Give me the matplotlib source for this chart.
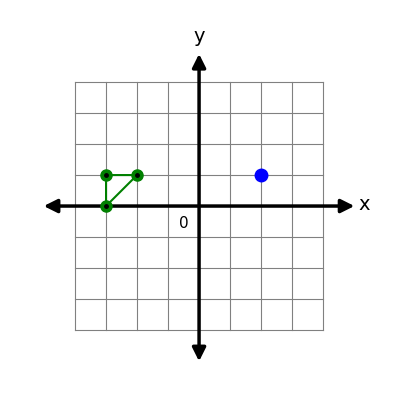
import numpy as np
import matplotlib.pyplot as plt

# grid range
grid_min, grid_max = -4, 4
# triangle vertices
tri_x = [-3, -3, -2]
tri_y = [0, 1, 1]
# single point
pt_x, pt_y = 2, 1

fig = plt.figure(figsize=(4, 4), dpi=100)
ax = fig.add_axes([0, 0, 1, 1])
ax.set_xlim(-6.42, 6.48)
ax.set_ylim(-6.26, 6.65)
ax.axis("off")

for v in range(grid_min, grid_max + 1):
    ax.plot([v, v], [grid_min, grid_max], color="gray", lw=0.8, zorder=1)
    ax.plot([grid_min, grid_max], [v, v], color="gray", lw=0.8, zorder=1)

# axes with arrows
ax.annotate("", xy=(5.1, 0), xytext=(-5.1, 0),
            arrowprops=dict(arrowstyle="<|-|>", color="black", lw=2.5, mutation_scale=20), zorder=2)
ax.annotate("", xy=(0, 5.0), xytext=(0, -5.1),
            arrowprops=dict(arrowstyle="<|-|>", color="black", lw=2.5, mutation_scale=20), zorder=2)
ax.text(5.15, 0.05, "x", fontsize=14, va="center", ha="left")
ax.text(0, 5.15, "y", fontsize=14, va="bottom", ha="center")
ax.text(-0.5, -0.55, "0", fontsize=11, va="center", ha="center")

ax.fill(tri_x, tri_y, facecolor="none", edgecolor="green", lw=1.5, zorder=3)
ax.plot(tri_x, tri_y, "o", color="green", ms=8, zorder=4)
ax.plot(tri_x, tri_y, "o", color="black", ms=2.5, zorder=5)
ax.plot(pt_x, pt_y, "o", color="blue", ms=9, zorder=4)

fig.savefig("out.png")
